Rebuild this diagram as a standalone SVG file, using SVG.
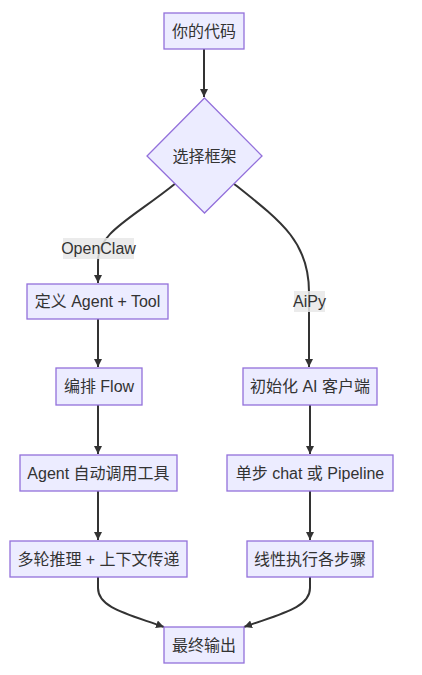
<svg xmlns="http://www.w3.org/2000/svg" width="422" height="675" viewBox="0 0 422 675">
<defs>
<marker id="arr" viewBox="0 0 10 10" refX="10" refY="5" markerWidth="8" markerHeight="8" markerUnits="userSpaceOnUse" orient="auto">
<path d="M0,0 L10,5 L0,10 z" fill="#333"/>
</marker>
<style>
.node rect, .node polygon { fill: #ECECFF; stroke: #9370DB; stroke-width: 1.3; }
.node text, .lbl text { font-family: "Liberation Sans", "Noto Sans CJK SC", sans-serif; font-size: 16px; fill: #333; text-anchor: middle; dominant-baseline: central; }
.edges path { fill: none; stroke: #333; stroke-width: 2; marker-end: url(#arr); }
.lbl rect { fill: #e8e8e8; fill-opacity: 0.85; }
</style>
</defs>
<rect width="422" height="675" fill="#ffffff"/>
<g class="edges" id="connectors">
<path d="M204,49 L204,97"/>
<path d="M176,183 C130,220 98,232 98,262 L98,283"/>
<path d="M233,183 C282,222 309,242 309,292 L309,367"/>
<path d="M98,319 L98,367"/>
<path d="M98,405 L98,454"/>
<path d="M98,491 L98,540"/>
<path d="M310,405 L310,454"/>
<path d="M310,491 L310,540"/>
<path d="M98,577 L98,588 C98,608 128,614 164,627"/>
<path d="M310,577 L310,588 C310,608 280,614 244,627"/>
</g>
<g class="lbl" id="label-openclaw">
<rect x="63" y="238" width="71" height="21"/>
<text x="98.5" y="248.5">OpenClaw</text>
</g>
<g class="lbl" id="label-aipy">
<rect x="294" y="291" width="31" height="21"/>
<text x="309.5" y="301.5">AiPy</text>
</g>
<g class="node" id="n-code">
<rect x="164" y="13" width="80" height="36"/>
<text x="204" y="31">你的代码</text>
</g>
<g class="node" id="n-choose">
<polygon points="204.5,98 262,156 204.5,213 147,156"/>
<text x="204.5" y="156">选择框架</text>
</g>
<g class="node" id="n-define">
<rect x="27" y="284" width="141" height="35"/>
<text x="97.5" y="301.5">定义 Agent + Tool</text>
</g>
<g class="node" id="n-flow">
<rect x="56" y="368" width="86" height="37"/>
<text x="99" y="386.5">编排 Flow</text>
</g>
<g class="node" id="n-autocall">
<rect x="20" y="455" width="157" height="36"/>
<text x="98.5" y="473">Agent 自动调用工具</text>
</g>
<g class="node" id="n-multiturn">
<rect x="10" y="541" width="177" height="36"/>
<text x="98.5" y="559">多轮推理 + 上下文传递</text>
</g>
<g class="node" id="n-init">
<rect x="243" y="368" width="134" height="37"/>
<text x="310" y="386.5">初始化 AI 客户端</text>
</g>
<g class="node" id="n-step">
<rect x="227" y="455" width="166" height="36"/>
<text x="310" y="473">单步 chat 或 Pipeline</text>
</g>
<g class="node" id="n-linear">
<rect x="247" y="541" width="126" height="36"/>
<text x="310" y="559">线性执行各步骤</text>
</g>
<g class="node" id="n-output">
<rect x="164" y="627" width="80" height="36"/>
<text x="204" y="645">最终输出</text>
</g>
</svg>
